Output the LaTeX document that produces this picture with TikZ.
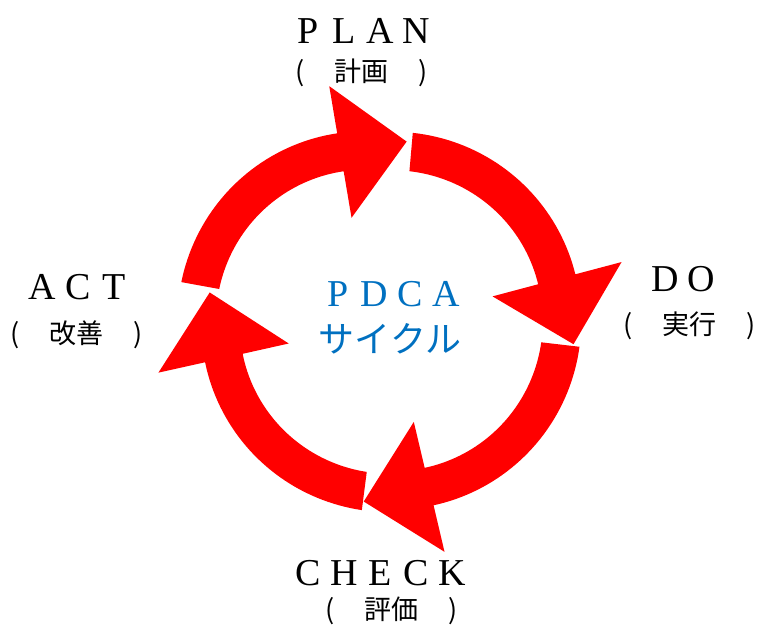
\documentclass[tikz,border=0pt]{standalone}
\usepackage{fontspec}
\setmainfont{Liberation Serif}
\newfontfamily\cjk{Noto Sans CJK JP}
\definecolor{pdcablue}{RGB}{0,112,192}
\newcommand\wcell[1]{\makebox[36pt]{#1}}
\newcommand\bcell[1]{\makebox[36pt]{#1}}
\newcommand\jparen[1]{\makebox[9pt]{(}\hspace{30pt}#1\hspace{30pt}\makebox[9pt]{)}}
% cx, cy (screen px, y down), tail angle (deg)
\newcommand\cyclearrow[3]{%
  \fill[cycarrow, shift={(#1,{624-#2})}]
    plot[domain=0:1,samples=40] ({#3-70*\x}:{190-4.3*\x})
    -- ({#3-70}:233.5) -- ({#3-92}:179) -- ({#3-70}:100)
    -- plot[domain=1:0,samples=40] ({#3-70*\x}:{151.5-4.3*\x}) -- cycle;}
\begin{document}
\begin{tikzpicture}[x=1pt,y=1pt,
  cycarrow/.style={fill=red, draw=none},
  enlabel/.style={font=\fontsize{38}{40}\selectfont, anchor=base, inner sep=0pt},
  jplabel/.style={font=\cjk\fontsize{27}{30}\selectfont, anchor=base, inner sep=0pt},
  centeren/.style={font=\fontsize{38}{40}\selectfont, text=pdcablue, anchor=base, inner sep=0pt},
  centerjp/.style={font=\cjk\fontsize{36}{38}\selectfont, text=pdcablue, anchor=base, inner sep=0pt}]
\useasboundingbox (0,0) rectangle (757,624);
% arrows
\cyclearrow{368.2}{316.4}{169.6}
\cyclearrow{395.9}{322.1}{84.9}
\cyclearrow{390.8}{324.6}{-6.7}
\cyclearrow{386.3}{321.7}{-97.4}
% labels
\node[enlabel] (plan) at (362,580) {\wcell{P}\wcell{L}\wcell{A}\wcell{N}};
\node[jplabel] (planjp) at (362,542) {\jparen{計画}};
\node[enlabel] (act) at (78,324) {\wcell{A}\wcell{C}\wcell{T}};
\node[jplabel] (actjp) at (77,280) {\jparen{改善}};
\node[enlabel] (do) at (683,332) {\wcell{D}\wcell{O}};
\node[jplabel] (dojp) at (690,289) {\jparen{実行}};
\node[enlabel] (check) at (380,39) {\wcell{C}\wcell{H}\wcell{E}\wcell{C}\wcell{K}};
\node[jplabel] (checkjp) at (392,5) {\jparen{評価}};
% centre
\node[centeren] (pdca) at (392,317) {\bcell{P}\bcell{D}\bcell{C}\bcell{A}};
\node[centerjp] (cycle) at (390,271) {サイクル};
\end{tikzpicture}
\end{document}
